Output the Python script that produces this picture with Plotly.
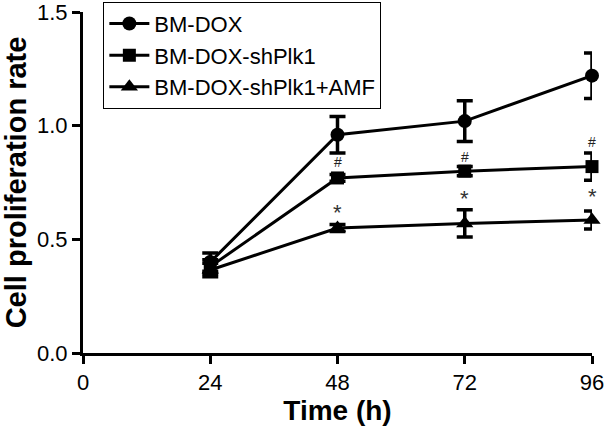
import plotly.graph_objects as go

time_h = [24, 48, 72, 96]
bm_dox = [0.40, 0.96, 1.02, 1.22]
bm_dox_err = [0.04, 0.08, 0.09, 0.10]
bm_shplk1 = [0.38, 0.77, 0.80, 0.82]
bm_shplk1_err = [0.03, 0.015, 0.02, 0.06]
bm_amf = [0.365, 0.55, 0.57, 0.585]
bm_amf_err = [0.03, 0.015, 0.06, 0.04]

hash_y = [0.84, 0.86, 0.93]
star_y = [0.62, 0.68, 0.69]
sig_x = [48, 72, 96]

x_ticks = [0, 24, 48, 72, 96]
y_ticks = [0.0, 0.5, 1.0, 1.5]

series = [
    ("BM-DOX", bm_dox, bm_dox_err, "circle", 14),
    ("BM-DOX-shPlk1", bm_shplk1, bm_shplk1_err, "square", 13),
    ("BM-DOX-shPlk1+AMF", bm_amf, bm_amf_err, "triangle-up", 15),
]

fig = go.Figure()
for i, (name, vals, errs, sym, sz) in enumerate(series):
    fig.add_trace(go.Scatter(
        x=time_h, y=vals, name=name, mode="lines+markers",
        legendgroup=f"g{i}",
        line=dict(color="black", width=3),
        marker=dict(symbol=sym, size=sz, color="black"),
        error_y=dict(type="data", array=errs, visible=True,
                     color="black", thickness=3.5, width=8),
        cliponaxis=False,
    ))

for xv, yv in zip(sig_x, hash_y):
    fig.add_annotation(x=xv, y=yv, text="#", showarrow=False,
                       font=dict(size=14, color="#222", family="Arial, Liberation Sans"))
for xv, yv in zip(sig_x, star_y):
    fig.add_annotation(x=xv, y=yv, text="*", showarrow=False,
                       font=dict(size=22, color="#333", family="Arial, Liberation Sans"))

fig.update_layout(
    width=604, height=427,
    margin=dict(l=83, r=12, t=12, b=74, autoexpand=False),
    paper_bgcolor="white", plot_bgcolor="white",
    font=dict(family="Arial, Liberation Sans", color="black"),
    showlegend=True,
    legend=dict(
        x=0.04, y=1.03, xanchor="left", yanchor="top",
        bordercolor="black", borderwidth=1, bgcolor="white",
        font=dict(size=22, color="black"),
        tracegroupgap=0,
        itemwidth=40,
    ),
    xaxis=dict(
        range=[0, 96], tickvals=x_ticks, ticktext=[str(v) for v in x_ticks],
        showline=True, linecolor="black", linewidth=3,
        ticks="outside", ticklen=8, tickwidth=3, tickcolor="black",
        showgrid=False, zeroline=False, automargin=False,
        ticklabeloverflow="allow",
        tickfont=dict(size=22),
        title=dict(text="<b>Time (h)</b>", font=dict(size=28), standoff=3),
    ),
    yaxis=dict(
        range=[0, 1.5], tickvals=y_ticks, tickformat=".1f",
        showline=True, linecolor="black", linewidth=3,
        ticks="outside", ticklen=8, tickwidth=3, tickcolor="black",
        showgrid=False, zeroline=False, automargin=False,
        ticklabeloverflow="allow",
        tickfont=dict(size=22),
        title=dict(text="<b>Cell proliferation rate</b>", font=dict(size=29), standoff=5),
    ),
)

fig.write_html("out.html",
               config={"displayModeBar": False},
               post_script="document.body.style.margin='0';document.body.style.overflow='hidden';")
